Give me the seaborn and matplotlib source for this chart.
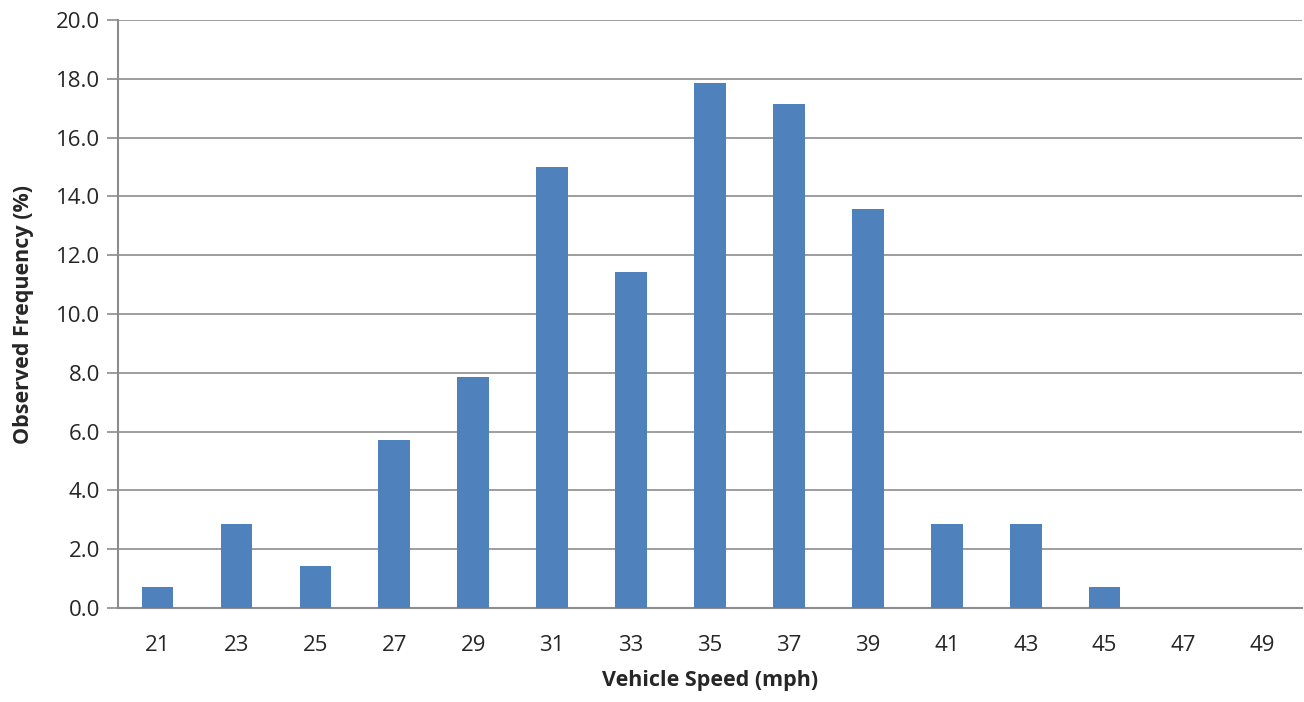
import matplotlib
matplotlib.use("Agg")
import matplotlib.pyplot as plt
import seaborn as sns
import pandas as pd

speeds = ["21", "23", "25", "27", "29", "31", "33", "35", "37", "39", "41", "43", "45", "47", "49"]
freq = [0.71, 2.86, 1.43, 5.71, 7.86, 15.0, 11.43, 17.86, 17.14, 13.57, 2.86, 2.86, 0.71, 0.0, 0.0]
y_ticks = [0, 2, 4, 6, 8, 10, 12, 14, 16, 18, 20]

sns.set_style("white")
plt.rcParams['font.family'] = ['Open Sans', 'DejaVu Sans']

df = pd.DataFrame({"speed": speeds, "freq": freq})

fig = plt.figure(figsize=(13.04, 7.02), dpi=100)
ax = fig.add_axes([118/1304, 94/702, (1302-118)/1304, (608-20)/702])

sns.barplot(data=df, x="speed", y="freq", color="#4F81BD", saturation=1, width=0.4,
            linewidth=0, edgecolor="none", ax=ax, zorder=3)

ax.set_ylim(0, 20)
ax.set_xlim(-0.5, len(speeds) - 0.5)
ax.set_yticks(y_ticks)
ax.set_yticklabels([f"{v:.1f}" for v in y_ticks])
ax.yaxis.grid(True, color="#8C8C8C", linewidth=1.2, zorder=0)
ax.set_axisbelow(True)

for s in ["top", "right"]:
    ax.spines[s].set_visible(False)
for s in ["left", "bottom"]:
    ax.spines[s].set_color("#8C8C8C")
    ax.spines[s].set_linewidth(1.5)

ax.tick_params(axis="y", which="both", left=True, length=8, width=1.2, color="#8C8C8C", labelsize=16, pad=5)
ax.tick_params(axis="x", bottom=False, labelsize=16, pad=16)

ax.set_xlabel("Vehicle Speed (mph)", fontsize=15.5, fontweight="bold", labelpad=10)
ax.set_ylabel("Observed Frequency (%)", fontsize=15.5, fontweight="bold", labelpad=16)

fig.savefig("out.png", dpi=100)
